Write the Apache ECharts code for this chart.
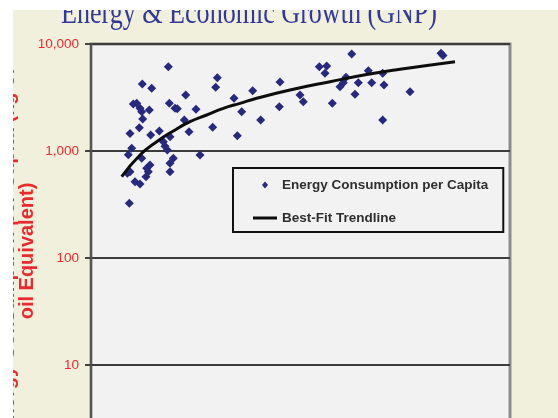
<!DOCTYPE html>
<html>
<head>
<meta charset="utf-8">
<script src="https://cdn.jsdelivr.net/npm/echarts@6/dist/echarts.min.js"></script>
<style>
  html, body { margin: 0; padding: 0; background: #ffffff; }
  #chart { width: 558px; height: 418px; }
</style>
</head>
<body>
<div id="chart"></div>
<script>
// GNP per capita (US$) of each country
const gnpPerCapita = [
  7730, 5130, 6070, 12630, 12470, 9470, 4230, 4570, 4900, 5070,
  5830, 5170, 7830, 8400, 8630, 10500, 9330, 4830, 3900, 5970,
  6830, 7900, 9800, 12170, 14300, 16170, 15070, 16970, 14630, 18900,
  18830, 20900, 21230, 22830, 23570, 23400, 24130, 7230, 7400, 7630,
  4070, 3730, 5070, 8230, 7900, 10900, 5900, 5570, 5730, 3900,
  3630, 5500, 7900, 4400, 4900, 3830, 26070, 35000, 35200, 25500,
  25230, 24900, 26730, 27730, 28070, 29170, 29300, 26400, 31900, 29170
];
// Energy consumption per capita (kg oil equivalent), same order
const energyPerCapita = [
  6140, 4230, 3860, 4840, 3940, 3340, 2750, 2790, 2510, 2330,
  2420, 1990, 2790, 2510, 2480, 2450, 1950, 1650, 1460, 1410,
  1540, 1360, 1510, 1670, 3110, 3660, 2330, 1950, 1390, 4410,
  2590, 3340, 2890, 6140, 6230, 5320, 2790, 1220, 1110, 1020,
  1060, 920, 855, 855, 767, 918, 740, 689, 641, 641,
  619, 575, 641, 516, 492, 324, 8060, 8200, 7800, 4890,
  4350, 3990, 4350, 5630, 4350, 5320, 4140, 3390, 3580, 1950
];
// Best-fit trendline samples
const trendGnp    = [3070, 4900, 6570, 8230, 9900, 11570, 13230, 14900, 16570, 19900, 23900, 27570, 30900, 36400];
const trendEnergy = [575,  918,  1222, 1540, 1880, 2170,  2506,  2790,  3110,  3715,  4443,  5180,  5802,  6834];

const scatterName = 'Energy Consumption per Capita';
const trendName = 'Best-Fit Trendline';
const chartTitle = 'Energy & Economic Growth (GNP)';
const yAxisTitle = 'Energy Consumption per Capita (kg of\noil Equivalent)';

const scatterData = gnpPerCapita.map((g, i) => [g, energyPerCapita[i]]);
const trendData = trendGnp.map((g, i) => [g, trendEnergy[i]]);

const sans = "'Liberation Sans', Arial, sans-serif";
const red = '#ec2a2e';
const navy = '#27297f';

// legend icons: a small diamond centred in a 24x7 box, and a 3px bar
const legendDiamond = 'path://M0,3.5L0.1,3.5ZM9,3.5L12,0L15,3.5L12,7ZM23.9,3.5L24,3.5Z';
const legendBar = 'path://M0,0H24V3H0Z';

const chart = echarts.init(document.getElementById('chart'), null, { renderer: 'canvas' });
chart.setOption({
  animation: false,
  backgroundColor: '#f0f0dc',
  grid: {
    left: 91, right: 48, top: 44, bottom: -54,
    outerBoundsMode: 'none',
    containLabel: false,
    show: true,
    backgroundColor: '#f2f2f2',
    borderColor: '#8c8c8c',
    borderWidth: 3
  },
  xAxis: {
    type: 'value', min: 0, max: 41900, show: false
  },
  yAxis: {
    type: 'log', logBase: 10, min: 1, max: 10000,
    name: yAxisTitle,
    nameLocation: 'middle',
    nameRotate: 90,
    nameGap: 54,
    nameMoveOverlap: false,
    nameTextStyle: {
      color: red, fontSize: 20, fontWeight: 'bold',
      fontFamily: sans,
      lineHeight: 19, padding: [0, 0, 0, 14]
    },
    axisLine: { show: true, lineStyle: { color: '#555555', width: 2 } },
    axisTick: { show: true, length: 6, lineStyle: { color: '#444444', width: 2 } },
    axisLabel: {
      color: red, fontSize: 13.5, fontFamily: sans, margin: 12,
      formatter: v => v.toLocaleString('en-US')
    },
    splitLine: { show: true, lineStyle: { color: '#3c3c3c', width: 2 } }
  },
  legend: {
    orient: 'vertical',
    left: 233, top: 168,
    backgroundColor: '#f2f2f2',
    borderColor: '#111111', borderWidth: 2, borderRadius: 0,
    padding: [10, 15, 7, 20],
    itemWidth: 24, itemHeight: 7, itemGap: 19,
    textStyle: { color: '#2e2e2e', fontSize: 13.5, fontWeight: 'bold', fontFamily: sans },
    data: [
      { name: scatterName, icon: legendDiamond },
      { name: trendName, icon: legendBar }
    ]
  },
  series: [
    {
      name: scatterName,
      type: 'scatter',
      data: scatterData,
      symbol: 'diamond',
      symbolSize: 9,
      itemStyle: { color: navy, opacity: 1 },
      z: 3
    },
    {
      name: trendName,
      type: 'line',
      data: trendData,
      smooth: true,
      showSymbol: false,
      symbol: 'none',
      lineStyle: { color: '#0d0d0d', width: 3 },
      itemStyle: { color: '#0d0d0d' },
      z: 4
    }
  ],
  graphic: [
    {
      type: 'text',
      x: 249, y: 31,
      scaleX: 0.79,
      z: 50,
      style: {
        text: chartTitle,
        font: "33px 'Liberation Serif', 'Times New Roman', serif",
        fill: '#33379a',
        textAlign: 'center',
        textVerticalAlign: 'bottom'
      }
    },
    {
      type: 'rect', z: 100, silent: true,
      shape: { x: 0, y: 0, width: 558, height: 10 },
      style: { fill: '#ffffff' }
    },
    {
      type: 'rect', z: 100, silent: true,
      shape: { x: 0, y: 0, width: 13, height: 418 },
      style: { fill: '#ffffff' }
    }
  ]
});
</script>
</body>
</html>
